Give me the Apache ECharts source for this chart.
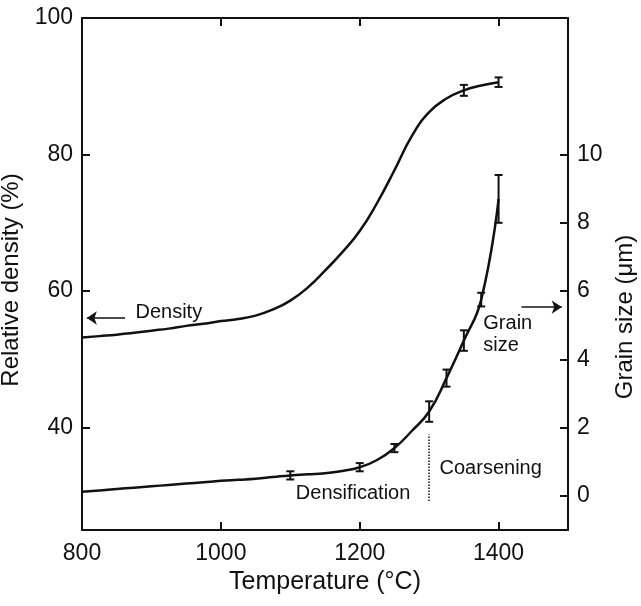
<!DOCTYPE html>
<html><head><meta charset="utf-8">
<script src="https://cdn.jsdelivr.net/npm/echarts@6/dist/echarts.min.js"></script>
<style>html,body{margin:0;padding:0;background:#fff}#c{width:641px;height:606px}</style>
</head><body><div id="c"></div>
<script>
// ---- data ----
const temps = [800, 825, 850, 875, 900, 925, 950, 975, 1000, 1025, 1050, 1075, 1100, 1125, 1150, 1175, 1200, 1225, 1250, 1275, 1300, 1325, 1350, 1375, 1400];
const density = [53.2, 53.4, 53.6, 53.9, 54.2, 54.5, 54.9, 55.2, 55.6, 55.9, 56.4, 57.3, 58.6, 60.5, 63.0, 65.7, 68.8, 72.9, 77.7, 82.7, 86.2, 88.2, 89.4, 90.1, 90.6];
const grainSize = [0.12, 0.16, 0.2, 0.24, 0.28, 0.32, 0.36, 0.4, 0.44, 0.47, 0.5, 0.55, 0.6, 0.63, 0.66, 0.73, 0.84, 1.05, 1.4, 1.9, 2.47, 3.45, 4.55, 5.75, 8.7];
const densityErrT = [1350, 1400];
const densityErr = [0.8, 0.7];
const grainErrT = [1100, 1200, 1250, 1300, 1325, 1350, 1375, 1400];
const grainErr = [0.12, 0.12, 0.12, 0.3, 0.25, 0.3, 0.2, 0.7];
const xTicks = [800, 1000, 1200, 1400];
const xTopTicks = [1000, 1200, 1400];
const yLeftTicks = [40, 60, 80, 100];
const yRightTicks = [0, 2, 4, 6, 8, 10];
const leftNotes = [{ text: 'Density', T: 877, v: 56.9 }];
const rightNotes = [
  { text: 'Grain\nsize', T: 1378, v: 4.73 },
  { text: 'Densification', T: 1108, v: 0.06 },
  { text: 'Coarsening', T: 1315, v: 0.80 }
];

// ---- build ----
const INK = '#111';
const FONT = '"Liberation Sans", Arial, sans-serif';
const valAt = (arr, t) => arr[temps.indexOf(t)];
const densityPts = temps.map((t, i) => [t, density[i]]);
const grainPts = temps.map((t, i) => [t, grainSize[i]]);
const densityBars = densityErrT.map((t, i) => [t, valAt(density, t) - densityErr[i], valAt(density, t) + densityErr[i]]);
const grainBars = grainErrT.map((t, i) => [t, valAt(grainSize, t) - grainErr[i], valAt(grainSize, t) + grainErr[i]]);

function errRender(params, api) {
  const x = api.value(0), lo = api.value(1), hi = api.value(2);
  const p1 = api.coord([x, lo]), p2 = api.coord([x, hi]);
  const w = 4, st = { stroke: INK, lineWidth: 2 };
  return { type: 'group', children: [
    { type: 'line', shape: { x1: p1[0], y1: p1[1], x2: p2[0], y2: p2[1] }, style: st },
    { type: 'line', shape: { x1: p1[0] - w, y1: p1[1], x2: p1[0] + w, y2: p1[1] }, style: st },
    { type: 'line', shape: { x1: p2[0] - w, y1: p2[1], x2: p2[0] + w, y2: p2[1] }, style: st }
  ]};
}

const axisLineStyle = { show: true, onZero: false, lineStyle: { color: INK, width: 2 } };
const tickStyle = { inside: true, length: 8, lineStyle: { color: INK, width: 2 } };
const labelStyle = { color: INK, fontSize: 23, fontFamily: FONT, formatter: v => String(v) };
const noteLabel = { show: true, position: 'right', distance: 0, color: INK, opacity: 1, fontSize: 20, fontFamily: FONT, lineHeight: 22, formatter: p => p.name };

const chart = echarts.init(document.getElementById('c'), null, { renderer: 'canvas' });
chart.setOption({
  backgroundColor: '#fff',
  animation: false,
  grid: { left: 82, right: 73, top: 18, bottom: 76, containLabel: false, outerBoundsMode: 'none' },
  xAxis: [
    { type: 'value', min: 800, max: 1500, position: 'bottom',
      name: 'Temperature (°C)', nameLocation: 'middle', nameGap: 39,
      nameTextStyle: { color: INK, fontSize: 25, fontFamily: FONT },
      axisLine: axisLineStyle,
      axisTick: Object.assign({ customValues: xTicks }, tickStyle),
      axisLabel: Object.assign({ customValues: xTicks, margin: 12 }, labelStyle),
      splitLine: { show: false } },
    { type: 'value', min: 800, max: 1500, position: 'top',
      axisLine: axisLineStyle,
      axisTick: Object.assign({ customValues: xTopTicks }, tickStyle),
      axisLabel: { show: false }, splitLine: { show: false } }
  ],
  yAxis: [
    { type: 'value', min: 25, max: 100, position: 'left',
      name: 'Relative density (%)', nameLocation: 'middle', nameGap: 35, nameRotate: 90,
      nameTextStyle: { color: INK, fontSize: 24, fontFamily: FONT, padding: [0, 12, 0, 0] },
      axisLine: axisLineStyle,
      axisTick: Object.assign({ customValues: yLeftTicks }, tickStyle),
      axisLabel: Object.assign({ customValues: yLeftTicks, margin: 9 }, labelStyle),
      splitLine: { show: false } },
    { type: 'value', min: -1, max: 14, position: 'right',
      name: 'Grain size (μm)', nameLocation: 'middle', nameGap: 30, nameRotate: 90,
      nameTextStyle: { color: INK, fontSize: 24, fontFamily: FONT, padding: [0, 86, 0, 0] },
      axisLine: axisLineStyle,
      axisTick: Object.assign({ customValues: yRightTicks }, tickStyle),
      axisLabel: Object.assign({ customValues: yRightTicks, margin: 9 }, labelStyle),
      splitLine: { show: false } }
  ],
  series: [
    { name: 'Relative density', type: 'line', xAxisIndex: 0, yAxisIndex: 0, data: densityPts,
      smooth: 0.5, showSymbol: false, lineStyle: { color: INK, width: 2.5 },
      markLine: { silent: true, symbol: ['none', 'arrow'], symbolSize: 10, label: { show: false },
        lineStyle: { color: INK, width: 1.5, type: 'solid' },
        data: [[{ coord: [862, 56.06] }, { coord: [807, 56.06] }]] } },
    { name: 'Grain size', type: 'line', xAxisIndex: 0, yAxisIndex: 1, data: grainPts,
      smooth: 0.5, showSymbol: false, lineStyle: { color: INK, width: 2.5 },
      markLine: { silent: true, symbol: ['none', 'arrow'], symbolSize: 10, label: { show: false },
        lineStyle: { color: INK, width: 1.5, type: 'solid' },
        data: [
          [{ coord: [1433, 5.53] }, { coord: [1491, 5.53] }],
          [{ coord: [1300, -0.15], symbol: 'none', lineStyle: { type: 'dotted', width: 1.5 } },
           { coord: [1300, 1.8], symbol: 'none' }]
        ] } },
    { name: 'Density error', type: 'custom', xAxisIndex: 0, yAxisIndex: 0, data: densityBars, renderItem: errRender, silent: true },
    { name: 'Grain error', type: 'custom', xAxisIndex: 0, yAxisIndex: 1, data: grainBars, renderItem: errRender, silent: true },
    { name: 'Notes L', type: 'scatter', xAxisIndex: 0, yAxisIndex: 0, symbolSize: 0, silent: true,
      itemStyle: { opacity: 1 }, data: leftNotes.map(n => ({ name: n.text, value: [n.T, n.v] })), label: noteLabel },
    { name: 'Notes R', type: 'scatter', xAxisIndex: 0, yAxisIndex: 1, symbolSize: 0, silent: true,
      itemStyle: { opacity: 1 }, data: rightNotes.map(n => ({ name: n.text, value: [n.T, n.v] })), label: noteLabel }
  ]
});
</script></body></html>
